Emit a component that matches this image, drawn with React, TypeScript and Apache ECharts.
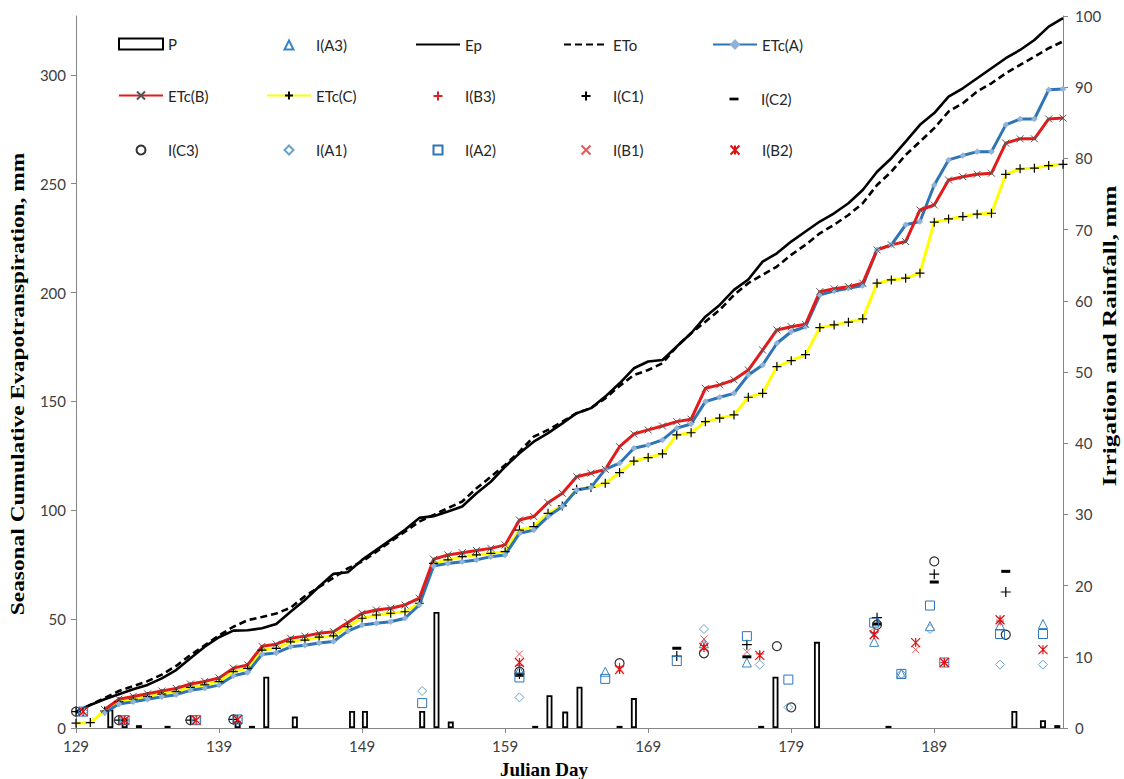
import React, { useEffect, useRef } from 'react';
import * as echarts from 'echarts';

// ---------- DATA ----------
const DAYS = [129,130,131,132,133,134,135,136,137,138,139,140,141,142,143,144,145,146,147,148,149,150,151,152,153,154,155,156,157,158,159,160,161,162,163,164,165,166,167,168,169,170,171,172,173,174,175,176,177,178,179,180,181,182,183,184,185,186,187,188,189,190,191,192,193,194,195,196,197,198];

const EP = [7.5,10.6,13.2,15.5,17.8,19.8,22.8,26.6,32.0,37.3,41.7,44.7,44.9,45.8,47.8,53.4,58.8,65.0,70.8,71.5,77.2,81.8,86.4,91.0,96.5,97.3,99.4,101.7,107.8,113.1,120.0,126.2,131.5,135.4,139.9,144.6,146.9,152.2,158.3,165.2,168.3,169.0,175.2,181.3,188.9,194.3,201.2,206.0,214.2,218.0,223.4,228.0,232.6,236.4,241.0,247.1,255.5,261.7,269.3,277.0,282.4,290.0,293.8,298.4,303.0,307.6,311.4,316.0,322.1,326.0];

const ETO = [7.0,10.6,13.8,17.0,19.2,21.5,24.5,28.5,33.5,38.0,42.5,46.5,49.5,51.0,52.6,55.2,60.5,64.8,69.0,73.3,76.4,81.0,85.6,90.2,94.8,97.8,101.0,104.0,110.1,115.4,120.8,126.9,133.8,136.9,140.7,144.6,146.9,151.4,157.1,162.1,164.4,167.5,175.2,181.3,186.6,192.0,198.9,204.3,208.1,211.9,217.3,221.9,227.2,231.1,235.6,241.0,249.4,255.5,263.2,269.3,275.5,283.1,286.9,292.3,296.1,300.7,304.5,308.3,312.2,315.3];

const ETC_A = [null,null,7.0,11.0,12.0,13.2,14.3,15.3,17.3,18.3,19.7,24.0,25.5,33.8,34.5,37.3,38.0,39.0,39.7,44.5,47.3,48.1,48.8,50.4,56.5,74.4,75.6,76.4,77.2,78.7,79.5,89.4,90.9,97.1,101.7,109.3,110.5,118.8,121.6,128.5,130.0,132.3,137.7,139.6,149.9,151.9,153.7,162.1,166.7,176.7,182.0,184.3,198.9,200.7,202.0,203.2,219.6,221.9,231.1,232.6,249.4,260.9,262.9,264.7,264.7,277.0,279.7,279.7,293.1,293.5];

const ETC_B = [null,null,8.5,13.2,14.5,15.7,17.0,18.2,20.2,21.4,23.0,27.5,29.0,37.5,38.5,41.2,42.2,43.5,44.2,48.5,52.7,54.2,55.0,56.5,59.6,77.5,79.5,80.5,81.5,82.5,84.1,95.5,97.1,103.5,107.8,115.4,117.0,118.8,129.2,135.0,136.9,138.7,140.7,141.8,156.0,157.6,159.9,164.4,173.6,182.8,184.3,185.4,200.4,201.7,202.7,204.3,219.6,221.9,223.4,237.9,240.2,251.7,253.2,254.3,254.8,268.6,270.6,270.6,279.7,280.1];

const ETC_C = [2.2,2.5,7.8,12.1,13.2,14.4,15.6,16.7,18.7,19.8,21.3,25.9,27.4,35.8,36.6,39.6,40.4,41.7,42.3,46.5,50.4,51.9,52.7,53.4,57.3,75.6,77.2,78.7,79.5,80.2,81.0,90.9,92.5,98.6,102.0,109.6,110.5,112.4,117.3,122.6,124.2,125.9,134.6,135.6,140.7,142.3,143.8,151.9,153.7,166.0,168.7,171.5,183.9,185.1,186.4,187.9,204.3,205.8,206.6,208.9,232.3,233.8,234.9,236.0,236.4,254.3,256.8,257.1,258.3,258.9];

// Rainfall P (day, mm)
const P_DAYS = [131.4,132.4,133.4,135.4,140.3,141.3,142.3,144.3,148.3,149.2,153.2,154.2,155.2,161.1,162.1,163.2,164.2,167.0,168.0,176.9,177.9,180.8,185.8,194.6,196.6,197.6];
const P_MM   = [2.6,1.4,0.4,0.3,1.0,0.3,7.2,1.6,2.4,2.4,2.4,16.3,0.9,0.3,4.6,2.3,5.8,0.3,4.2,0.3,7.2,12.1,0.3,2.4,1.1,0.4];

// Irrigation series (day, mm)
const I_A1 = [[129.5,2.3],[132.4,1.1],[137.4,1.1],[140.3,1.2],[153.2,5.2],[160.0,4.3],[172.9,13.9],[176.8,8.9],[178.8,2.9],[184.8,13.5],[186.7,7.6],[188.7,13.9],[193.6,8.9],[196.6,8.9]];
const I_A2 = [[129.5,2.3],[132.4,1.1],[137.4,1.1],[140.3,1.2],[153.2,3.5],[160.0,7.1],[166.0,6.9],[171.0,9.4],[175.9,12.9],[178.8,6.8],[184.8,14.8],[186.7,7.6],[188.7,17.2],[189.7,9.2],[193.6,13.2],[196.6,13.2]];
const I_A3 = [[160.0,8.1],[166.0,7.9],[172.9,11.9],[175.9,9.2],[184.8,12.1],[186.7,7.6],[188.7,14.3],[193.6,14.4],[196.6,14.6]];
const I_B1 = [[129.5,2.3],[132.4,1.1],[137.4,1.1],[140.3,1.2],[160.0,10.4],[167.0,8.4],[172.9,12.5],[175.9,10.7],[184.8,13.2],[187.7,11.0],[189.7,9.2],[193.6,14.8]];
const I_B2 = [[129.5,2.3],[132.4,1.1],[137.4,1.1],[140.3,1.2],[160.0,9.2],[167.0,8.2],[172.9,11.3],[176.8,10.2],[184.8,13.1],[187.7,12.0],[189.7,9.2],[193.6,15.2],[196.6,11.0]];
const I_B3 = [[160.0,8.8],[167.0,8.6],[172.9,11.6],[176.8,10.4],[184.8,13.4],[189.7,9.2],[193.6,15.0]];
const I_C1 = [[129.0,2.3],[132.0,1.1],[137.0,1.1],[140.0,1.2],[160.0,7.6],[171.0,10.1],[175.9,11.7],[185.0,15.5],[189.0,21.6],[194.0,19.1]];
const I_C2 = [[160.0,7.4],[171.0,11.2],[175.9,10.0],[185.0,14.6],[189.0,20.5],[194.0,22.0]];
const I_C3 = [[129.0,2.3],[132.0,1.1],[137.0,1.1],[140.0,1.2],[160.0,7.9],[167.0,9.1],[172.9,10.5],[178.0,11.5],[179.0,2.9],[185.0,14.5],[189.0,23.4],[194.0,13.1]];

const X_TICKS = [129,139,149,159,169,179,189];
const Y_LEFT_TICKS = [0,50,100,150,200,250,300];

// ---------- STYLE HELPERS ----------
const PLUS = 'path://M0,5L10,5M5,0L5,10';
const CROSS = 'path://M0,0L10,10M10,0L0,10';
const STAR = 'path://M0,0L10,10M10,0L0,10M5,0L5,10';
const DASH = 'path://M0,0L10,0L10,3L0,3Z';
const CLEAR = 'rgba(0,0,0,0)';

const FONT = 'Lato, "Liberation Sans", sans-serif';

export default function App() {
  const ref = useRef<HTMLDivElement>(null);

  useEffect(() => {
    if (!ref.current) return;
    const chart = echarts.init(ref.current, undefined, { renderer: 'svg' });

    const zip = (vals: (number | null)[]) => DAYS.map((d, i) => [d, vals[i]]);
    const pData = P_DAYS.map((d, i) => [d, P_MM[i]]);

    const scatter = (name: string, data: number[][], symbol: string, size: any, stroke: string, fill: string, bw = 1) => ({
      name,
      type: 'scatter',
      xAxisIndex: 0,
      yAxisIndex: 1,
      data,
      symbol,
      symbolSize: size,
      itemStyle: { color: fill, borderColor: stroke, borderWidth: bw, opacity: 1 },
      z: 4,
    });

    const series: any[] = [
      {
        name: 'P',
        type: 'bar',
        xAxisIndex: 0,
        yAxisIndex: 1,
        data: pData,
        barWidth: 6,
        itemStyle: { color: '#ffffff', borderColor: '#000000', borderWidth: 1.8 },
        z: 2,
      },
      scatter('I(A3)', I_A3, 'triangle', 9, '#3a86c4', CLEAR),
      {
        name: 'Ep', type: 'line', data: zip(EP), symbol: 'none',
        lineStyle: { color: '#000', width: 2.6 }, itemStyle: { color: '#000' }, z: 3,
      },
      {
        name: 'ETo', type: 'line', data: zip(ETO), symbol: 'none',
        lineStyle: { color: '#000', width: 2.6, type: [7, 4] }, itemStyle: { color: '#000' }, z: 3,
      },
      {
        name: 'ETc(C)', type: 'line', data: zip(ETC_C), symbol: PLUS, symbolSize: 9,
        lineStyle: { color: '#ffff00', width: 3 },
        itemStyle: { color: '#000', borderColor: '#000', borderWidth: 1.2 }, z: 3,
      },
      {
        name: 'ETc(A)', type: 'line', data: zip(ETC_A), symbol: 'diamond', symbolSize: 6,
        lineStyle: { color: '#2e75b6', width: 3 },
        itemStyle: { color: '#8fb3d9', borderColor: '#8fb3d9', borderWidth: 0.5 }, z: 3,
      },
      {
        name: 'ETc(B)', type: 'line', data: zip(ETC_B), symbol: CROSS, symbolSize: 7,
        lineStyle: { color: '#e31b1b', width: 3 },
        itemStyle: { color: '#555', borderColor: '#555', borderWidth: 1 }, z: 3,
      },
      scatter('I(B3)', I_B3, PLUS, 8, '#e02020', '#e02020', 1),
      scatter('I(C1)', I_C1, PLUS, 10, '#000', '#000', 1.2),
      scatter('I(C2)', I_C2, 'rect', [9, 3], '#000', '#000', 0),
      scatter('I(C3)', I_C3, 'circle', 9, '#333', CLEAR, 1.2),
      scatter('I(A1)', I_A1, 'diamond', 9, '#6aa2cc', CLEAR),
      scatter('I(A2)', I_A2, 'rect', 9, '#2e75b6', CLEAR),
      scatter('I(B1)', I_B1, CROSS, 7, '#e8585a', '#e8585a', 1),
      scatter('I(B2)', I_B2, STAR, 9, '#e01010', '#e01010', 1.2),
    ];

    const COLS = [118, 266, 415, 563, 712];
    const ROWS = [42, 93, 147];
    const LEGEND_GRID = [
      ['P', 'I(A3)', 'Ep', 'ETo', 'ETc(A)'],
      ['ETc(B)', 'ETc(C)', 'I(B3)', 'I(C1)', 'I(C2)'],
      ['I(C3)', 'I(A1)', 'I(A2)', 'I(B1)', 'I(B2)'],
    ];
    const ICON_W = 44;
    const legends: any[] = [];
    LEGEND_GRID.forEach((row, r) => {
      row.forEach((name, c) => {
        const isLine = name === 'Ep' || name === 'ETo' || name.startsWith('ETc');
        const isBar = name === 'P';
        const item: any = { name };
        let w = ICON_W;
        let h = 10;
        const extra: any = {};
        if (isBar) { item.icon = 'rect'; h = 11; }
        else if (!isLine) {
          h = name === 'I(C2)' ? 3 : 9;
          w = 9;
          if (name === 'I(C2)') item.icon = DASH;
        }
        if (name === 'Ep' || name === 'ETo') {
          extra.itemStyle = { opacity: 0, color: CLEAR, borderWidth: 0 };
        }
        const left = COLS[c] + (ICON_W - w) / 2;
        const textPad = (COLS[c] + ICON_W + 5) - (left + w + 5);
        legends.push({
          data: [item],
          left,
          top: ROWS[r] - h / 2,
          itemWidth: w,
          itemHeight: h,
          itemGap: 0,
          padding: 0,
          selectedMode: false,
          ...extra,
          textStyle: { fontFamily: FONT, fontSize: 15, color: '#262626', padding: [0, 0, 0, textPad] },
        });
      });
    });

    const axisLine = { show: true, lineStyle: { color: '#868686', width: 1 } };
    const axisLabel = { fontFamily: FONT, fontSize: 15, color: '#404040' };

    chart.setOption({
      animation: false,
      backgroundColor: '#ffffff',
      grid: { left: 76, right: 61, top: 16, bottom: 51, containLabel: false },
      legend: legends,
      xAxis: [{
        type: 'value', min: 129, max: 198,
        axisLine: { ...axisLine, onZero: false },
        axisTick: { show: true, length: 5, lineStyle: { color: '#868686' }, customValues: X_TICKS },
        axisLabel: { ...axisLabel, margin: 10, customValues: X_TICKS },
        splitLine: { show: false },
      }],
      yAxis: [
        {
          type: 'value', min: 0, max: 327, position: 'left',
          axisLine,
          axisTick: { show: true, length: 5, lineStyle: { color: '#868686' }, customValues: Y_LEFT_TICKS },
          axisLabel: { ...axisLabel, margin: 10, customValues: Y_LEFT_TICKS },
          splitLine: { show: false },
        },
        {
          type: 'value', min: 0, max: 100, interval: 10, position: 'right',
          axisLine,
          axisTick: { show: true, length: 5, lineStyle: { color: '#868686' } },
          axisLabel: { ...axisLabel, margin: 12 },
          splitLine: { show: false },
        },
      ],
      graphic: [
        {
          type: 'text', x: 18, y: 384, rotation: Math.PI / 2, scaleX: 1.3,
          style: {
            text: 'Seasonal Cumulative Evapotranspiration, mm',
            font: 'bold 18px "Liberation Serif", serif', fill: '#000',
            textAlign: 'center', textVerticalAlign: 'middle',
          },
        },
        {
          type: 'text', x: 1110, y: 336, rotation: Math.PI / 2, scaleX: 1.4,
          style: {
            text: 'Irrigation and Rainfall, mm',
            font: 'bold 18px "Liberation Serif", serif', fill: '#000',
            textAlign: 'center', textVerticalAlign: 'middle',
          },
        },
        {
          type: 'text', x: 544, y: 769,
          style: {
            text: 'Julian Day',
            font: 'bold 19px "Liberation Serif", serif', fill: '#000',
            textAlign: 'center', textVerticalAlign: 'middle',
          },
        },
      ],
      series,
    });

    return () => chart.dispose();
  }, []);

  return <div ref={ref} style={{ width: 1124, height: 779, position: 'absolute', left: 0, top: 0 }} />;
}
